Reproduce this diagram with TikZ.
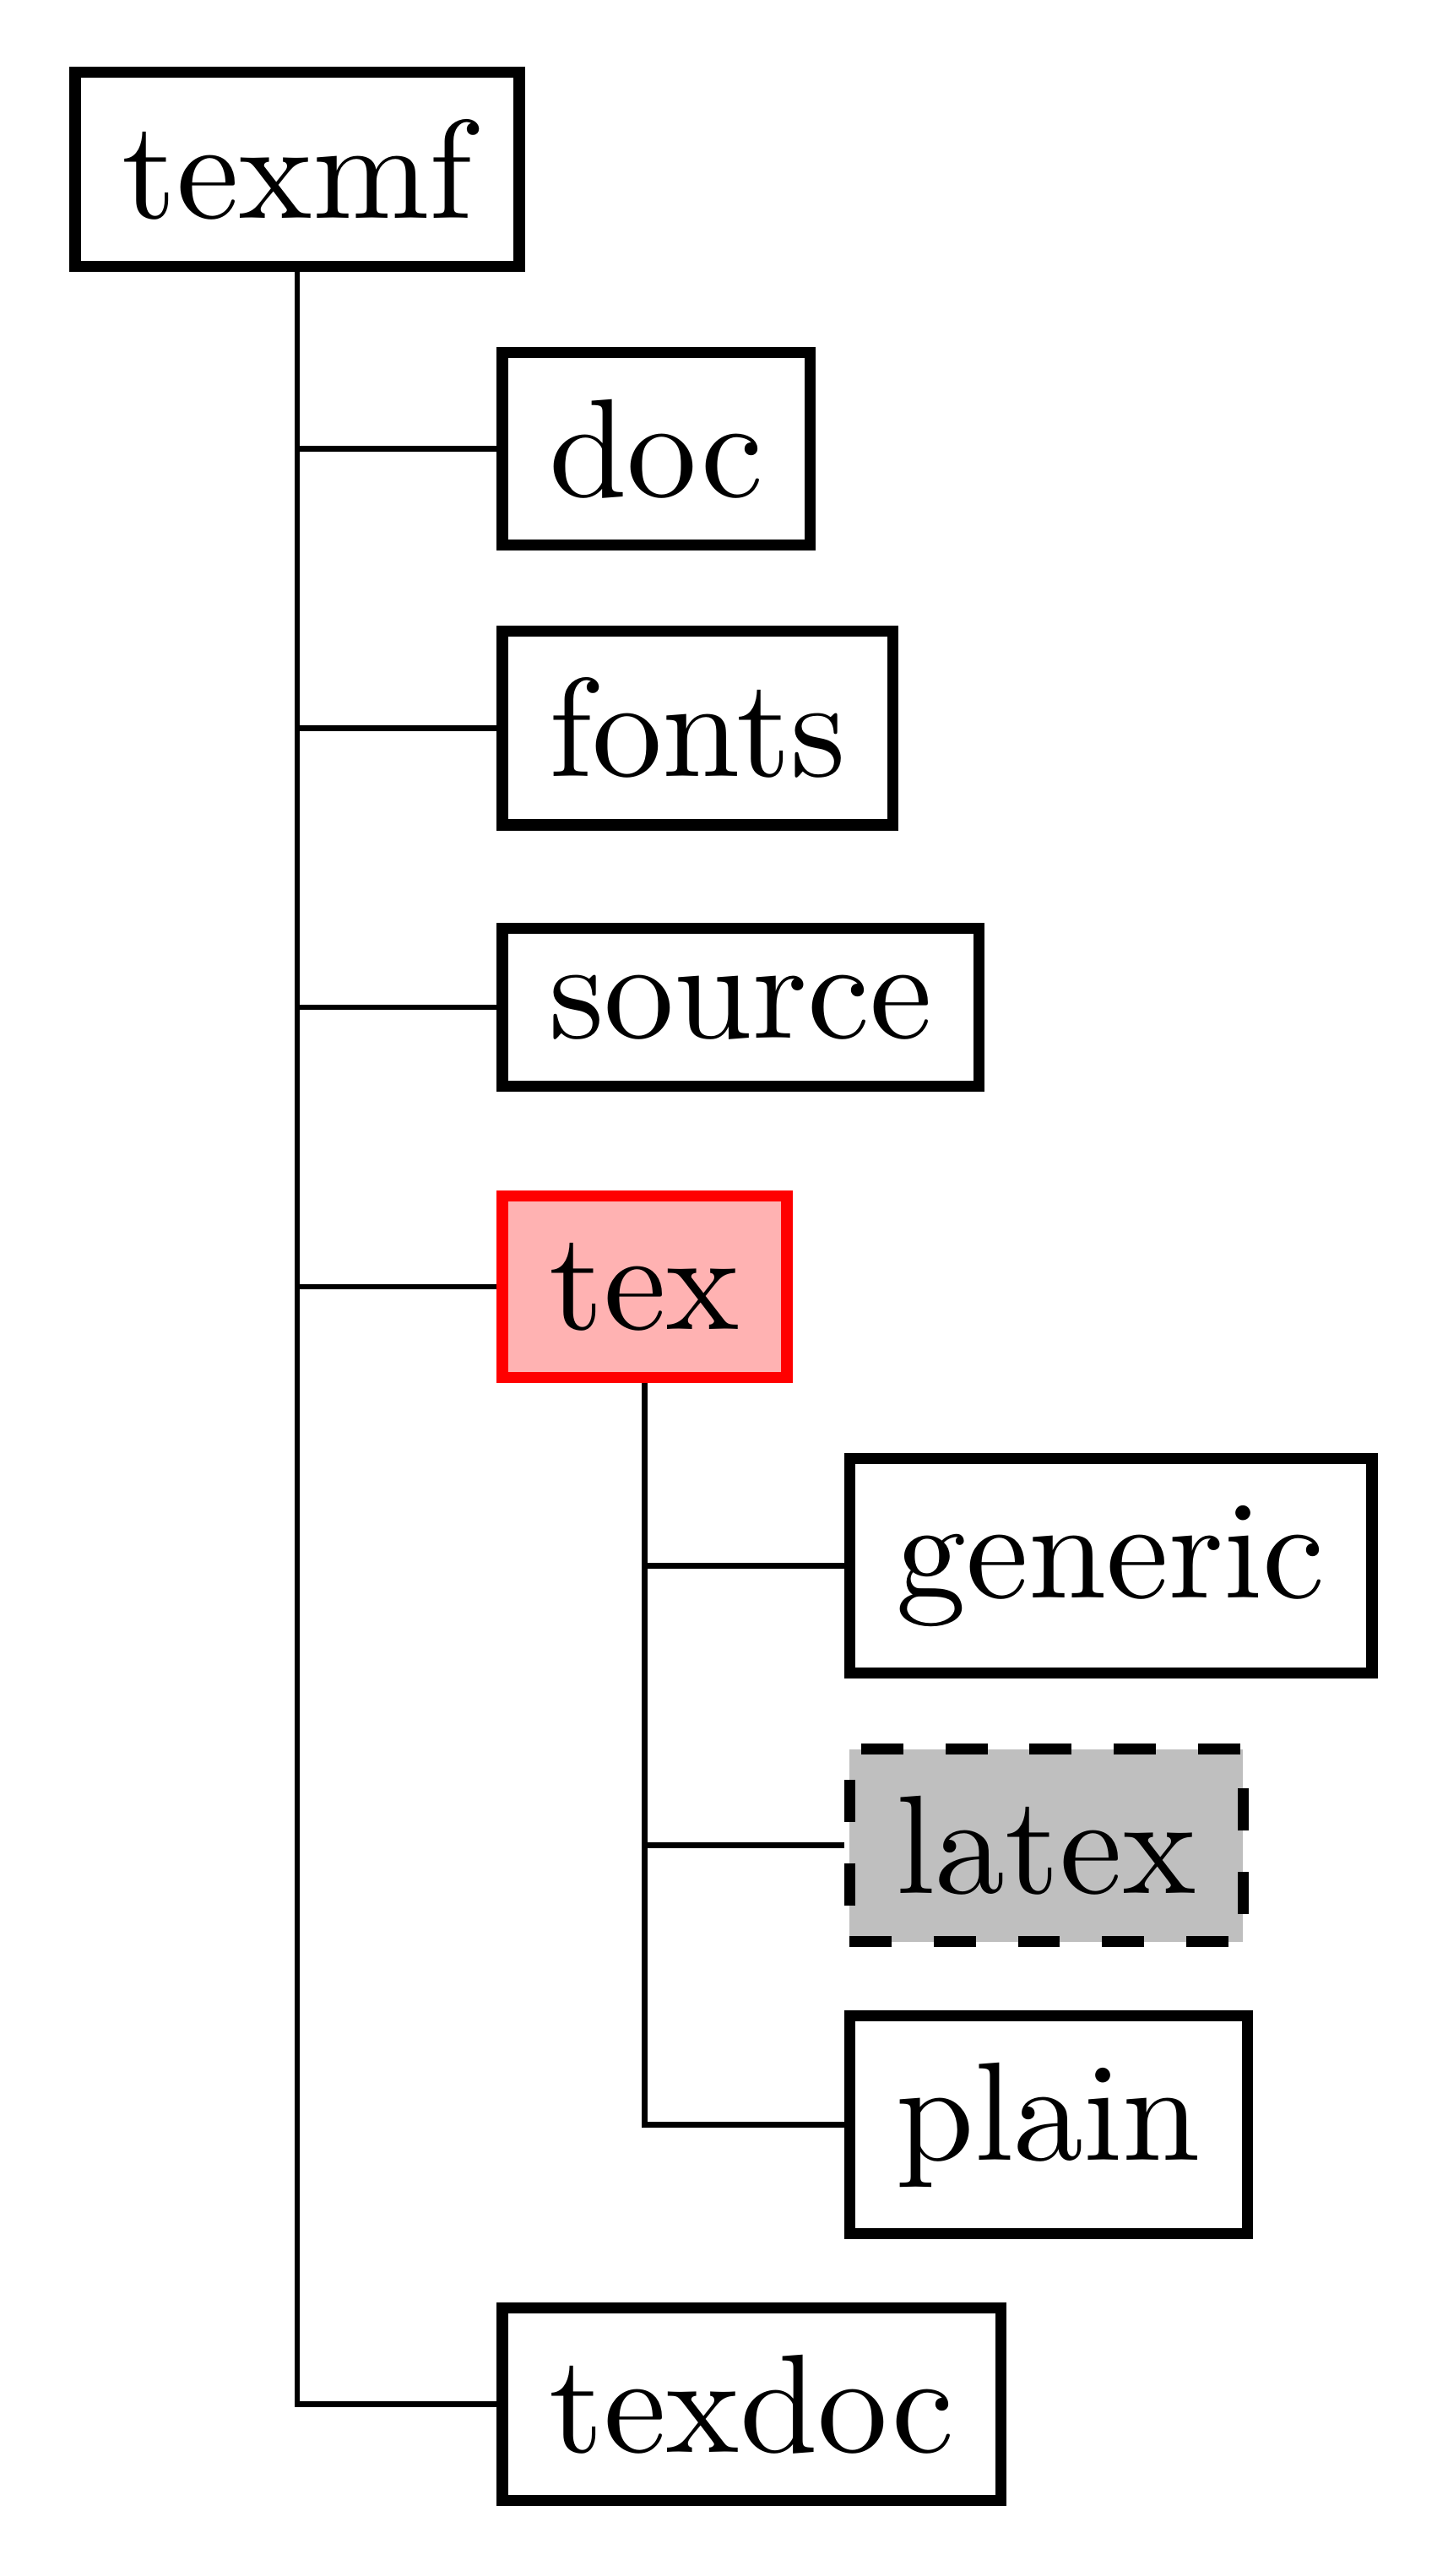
\documentclass[tikz,border=0pt]{standalone}

\begin{document}
\begin{tikzpicture}[every node/.style={draw=black, thick, anchor=west},
  selected/.style={draw=red, fill=red!30},
  optional/.style={dashed, fill=gray!50}]
  \useasboundingbox (-0.745, 0.424) rectangle (2.882, -6.031);

  \node[anchor=center] (texmf) at (0, 0) {texmf};

  \node (doc) at (0.5, -0.7) {doc};
  \node (fonts) at (0.5, -1.4) {fonts};
  \node (source) at (0.5, -2.1) {source};
  \node[selected] (tex) at (0.5, -2.8) {tex};

  \node (generic) at (1.37, -3.5) {generic};
  \node[optional] (latex) at (1.37, -4.2) {latex};
  \node (plain) at (1.37, -4.9) {plain};

  \node (texdoc) at (0.5, -5.6) {texdoc};

  \draw
    (texmf.south) |- (doc.west)
    (texmf.south) |- (fonts.west)
    (texmf.south) |- (source.west)
    (texmf.south) |- (tex.west)
    (texmf.south) |- (texdoc.west);

  \draw
    (tex.south) |- (generic.west)
    (tex.south) |- (latex.west)
    (tex.south) |- (plain.west);
\end{tikzpicture}
\end{document}
